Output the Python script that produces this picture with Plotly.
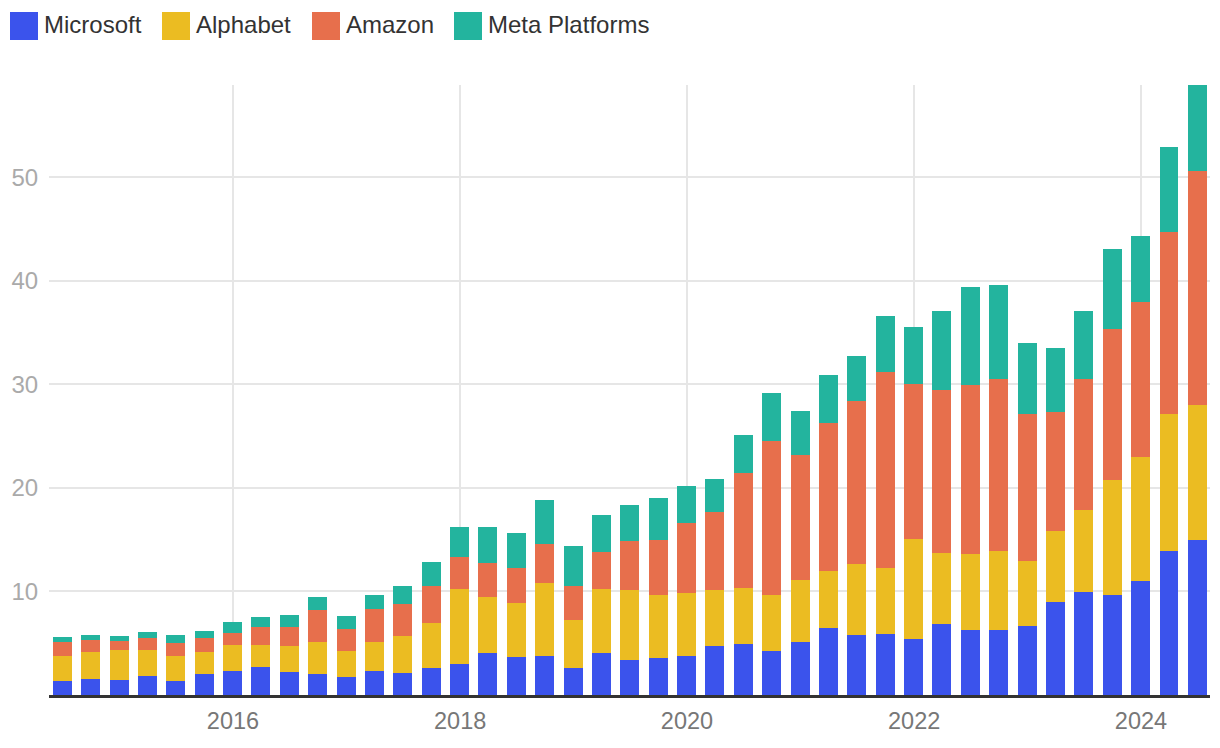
import pandas as pd
import plotly.graph_objects as go

# Quarterly periods (quarter-end dates)
quarters = pd.date_range(start="2014-06-30", periods=41, freq="QE")

microsoft = [1.32, 1.52, 1.42, 1.80, 1.32, 1.99, 2.28, 2.67, 2.19, 1.99,
             1.70, 2.28, 2.09, 2.58, 2.96, 4.02, 3.64, 3.74, 2.58, 4.02,
             3.35, 3.54, 3.74, 4.70, 4.90, 4.22, 5.09, 6.44, 5.77, 5.86,
             5.36, 6.82, 6.23, 6.23, 6.63, 8.95, 9.90, 9.70, 10.97, 13.89,
             14.95]
alphabet = [2.42, 2.61, 2.90, 2.52, 2.42, 2.14, 2.52, 2.13, 2.51, 3.10,
            2.52, 2.81, 3.58, 4.35, 7.25, 5.42, 5.22, 7.05, 4.63, 6.19,
            6.76, 6.09, 6.08, 5.41, 5.41, 5.41, 5.99, 5.51, 6.86, 6.38,
            9.75, 6.87, 7.34, 7.66, 6.27, 6.87, 8.01, 11.05, 11.99, 13.21,
            13.02]
amazon = [1.35, 1.15, 0.87, 1.19, 1.25, 1.38, 1.16, 1.74, 1.84, 3.12,
          2.13, 3.18, 3.12, 3.60, 3.09, 3.28, 3.41, 3.80, 3.32, 3.61,
          4.74, 5.32, 6.77, 7.54, 11.11, 14.88, 12.08, 14.30, 15.75, 18.94,
          14.95, 15.78, 16.37, 16.60, 14.20, 11.52, 12.58, 14.56, 15.03, 17.59,
          22.64]
meta = [0.48, 0.49, 0.48, 0.55, 0.78, 0.65, 1.06, 0.96, 1.16, 1.23,
        1.25, 1.36, 1.71, 2.29, 2.90, 3.48, 3.35, 4.22, 3.84, 3.54,
        3.48, 4.05, 3.57, 3.19, 3.67, 4.64, 4.25, 4.64, 4.35, 5.42,
        5.44, 7.61, 9.43, 9.08, 6.86, 6.15, 6.59, 7.73, 6.31, 8.21,
        8.29]

series_names = ["Microsoft", "Alphabet", "Amazon", "Meta Platforms"]
series_values = [microsoft, alphabet, amazon, meta]
colors = ["#3b53ec", "#ebbc22", "#e76f4c", "#23b49e"]
y_ticks = [10, 20, 30, 40, 50]

# page body has an 8px margin: figure is sized/offset to compensate
OFF = 8
W, H = 1212, 740
ML, MR, MT, MB = 41, 10, 77, 53
PW, PH = W - ML - MR, H - MT - MB

fig = go.Figure()
bar_width_ms = 61 * 86400000
for name, vals, col in zip(series_names, series_values, colors):
    fig.add_trace(go.Bar(x=quarters, y=vals, name=name, marker_color=col,
                         marker_line_width=0, width=bar_width_ms,
                         showlegend=False))

# Custom legend (large square swatches); positions given in page pixels
def px_x(p):
    return (p - OFF - ML) / PW

def px_y(p):
    return (H - MB - (p - OFF)) / PH

legend_sq_x = [10, 162, 312, 454]
shapes = []
annotations = []
for name, col, sx in zip(series_names, colors, legend_sq_x):
    shapes.append(dict(type="rect", xref="paper", yref="paper",
                       x0=px_x(sx), x1=px_x(sx + 28), y0=px_y(40), y1=px_y(12),
                       fillcolor=col, line_width=0))
    annotations.append(dict(xref="paper", yref="paper", x=px_x(sx + 32), y=px_y(25),
                            text=name, showarrow=False, xanchor="left", yanchor="middle",
                            font=dict(size=24, color="#333333",
                                      family="Liberation Sans, Arial, sans-serif")))

fig.update_layout(
    width=W, height=H,
    barmode="stack",
    plot_bgcolor="white", paper_bgcolor="white",
    margin=dict(l=ML, r=MR, t=MT, b=MB, autoexpand=False),
    font=dict(family="Liberation Sans, Arial, sans-serif"),
    shapes=shapes, annotations=annotations,
    xaxis=dict(
        type="date", automargin=False,
        range=["2014-05-19", "2024-08-10"],
        tick0="2016-01-01", dtick="M24", tickformat="%Y",
        showgrid=True, gridcolor="#e6e6e6", gridwidth=2,
        showline=True, linecolor="#333333", linewidth=3,
        ticks="outside", ticklen=3, tickcolor="rgba(0,0,0,0)",
        tickfont=dict(size=23.5, color="#777777"),
        zeroline=False,
    ),
    yaxis=dict(
        automargin=False,
        range=[0, 58.9],
        tickvals=y_ticks,
        showgrid=True, gridcolor="#e6e6e6", gridwidth=2,
        zeroline=False, showline=False,
        ticks="outside", ticklen=5, tickcolor="rgba(0,0,0,0)",
        tickfont=dict(size=24, color="#aaaaaa"),
    ),
)

fig.write_html("out.html")
